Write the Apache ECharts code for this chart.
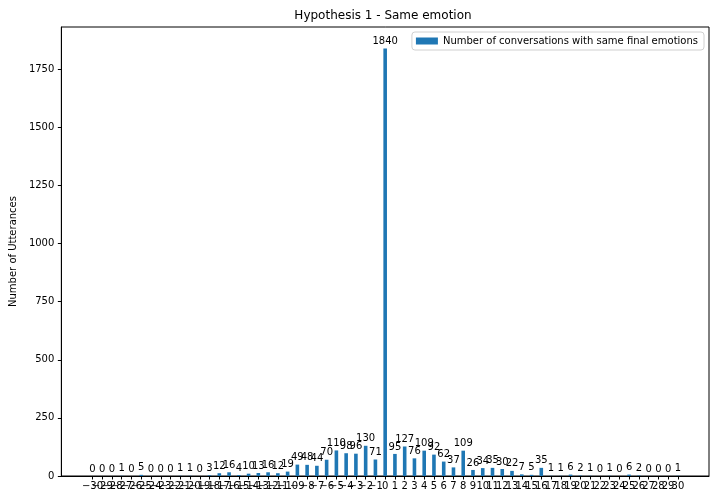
<!DOCTYPE html>
<html>
<head>
<meta charset="utf-8">
<script src="https://cdn.jsdelivr.net/npm/echarts@6/dist/echarts.min.js"></script>
<style>
  html, body { margin: 0; padding: 0; background: #fff; }
  #chart { width: 720px; height: 504px; }
</style>
</head>
<body>
<div id="chart"></div>
<script>
// 数据
var categories = [];
for (var c = -30; c <= 30; c++) categories.push(c);

var counts = [
  0, 0, 0, 1, 0, 5, 0, 0, 0, 1, 1, 0, 3, 12, 16, 4, 10, 13, 16, 12, 19,
  49, 48, 44, 70, 110, 98, 96, 130, 71,
  1840,
  95, 127, 76, 109, 92, 62, 37, 109, 26, 34, 35, 30, 22, 7, 5, 35,
  1, 1, 6, 2, 1, 0, 1, 0, 6, 2, 0, 0, 0, 1
];

var yTicks = [0, 250, 500, 750, 1000, 1250, 1500, 1750];

var font = 'DejaVu Sans';
var xMin = -33.19, xMax = 33.19;

// 两端加空标签，避免首尾标签被隐藏
var xLabelValues = [xMin].concat(categories, [xMax]);

var myChart = echarts.init(document.getElementById('chart'));

var option = {
  animation: false,
  backgroundColor: '#fff',
  textStyle: { fontFamily: font },
  title: {
    text: 'Hypothesis 1 - Same emotion',
    left: 383,
    top: 10,
    padding: 0,
    textAlign: 'center',
    textStyle: { fontFamily: font, fontSize: 12, fontWeight: 'normal', color: '#000' }
  },
  legend: {
    data: ['Number of conversations with same final emotions'],
    right: 16,
    top: 32,
    orient: 'vertical',
    icon: 'rect',
    itemWidth: 22,
    itemHeight: 7,
    itemGap: 4,
    padding: [4, 6, 4, 4],
    borderColor: '#d0d0d0',
    borderWidth: 1,
    borderRadius: 3,
    backgroundColor: '#fff',
    textStyle: { fontFamily: font, fontSize: 10, color: '#000' }
  },
  grid: {
    left: 57,
    right: 11,
    top: 27,
    bottom: 28,
    show: true,
    borderColor: '#000',
    borderWidth: 1
  },
  xAxis: {
    type: 'value',
    min: xMin,
    max: xMax,
    splitLine: { show: false },
    axisLine: { show: true, onZero: false, lineStyle: { color: '#000' } },
    axisTick: { show: true, length: 3.5, customValues: categories, lineStyle: { color: '#000' } },
    axisLabel: {
      customValues: xLabelValues,
      hideOverlap: false,
      margin: 5,
      fontSize: 10,
      color: '#000',
      fontFamily: font,
      formatter: function (v) {
        if (v < -30 || v > 30) return '';
        return v < 0 ? '\u2212' + (-v) : String(v);
      }
    }
  },
  yAxis: {
    type: 'value',
    min: 0,
    max: 1932,
    name: 'Number of Utterances',
    nameLocation: 'middle',
    nameGap: 40,
    nameTextStyle: { fontFamily: font, fontSize: 10, color: '#000' },
    splitLine: { show: false },
    axisLine: { show: true, onZero: false, lineStyle: { color: '#000' } },
    axisTick: { show: true, length: 3.5, customValues: yTicks, lineStyle: { color: '#000' } },
    axisLabel: {
      customValues: yTicks,
      margin: 7,
      fontSize: 10,
      color: '#000',
      fontFamily: font,
      formatter: function (v) { return String(v); }
    }
  },
  series: [{
    name: 'Number of conversations with same final emotions',
    type: 'bar',
    barWidth: 3.6,
    itemStyle: { color: '#1f77b4' },
    label: {
      show: true,
      position: 'top',
      distance: 2,
      fontSize: 10,
      color: '#000',
      fontFamily: font
    },
    data: categories.map(function (c, i) { return [c, counts[i]]; })
  }]
};

myChart.setOption(option);
</script>
</body>
</html>
